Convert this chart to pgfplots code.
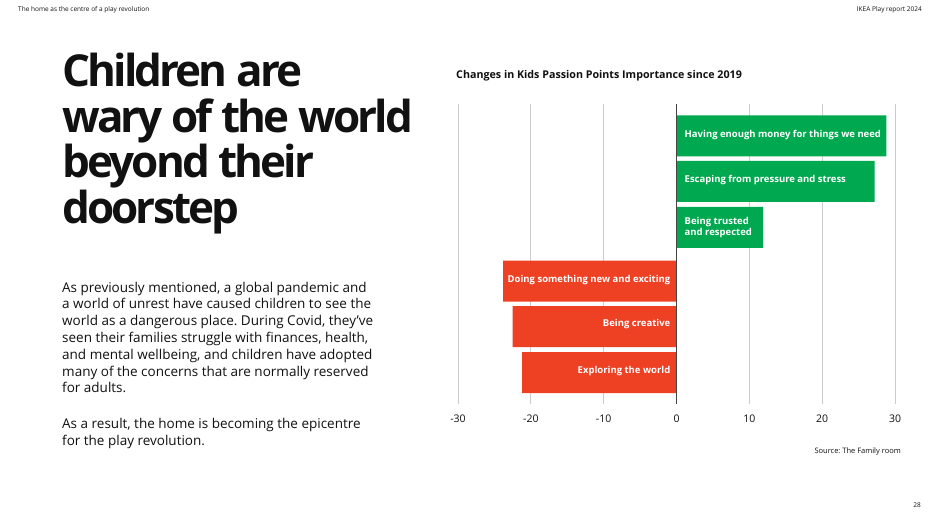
\documentclass[border=0pt]{standalone}
\usepackage{fontspec}
\setmainfont{Open Sans}
\newfontfamily\titlefont[LetterSpace=-6.5]{Open Sans}
\usepackage{pgfplots}
\pgfplotsset{compat=1.18}
\definecolor{barGreen}{HTML}{00A84F}
\definecolor{barRed}{HTML}{EE4023}
\definecolor{ink}{HTML}{111111}
\definecolor{gridGray}{HTML}{CCCCCC}
\definecolor{zeroLine}{HTML}{444444}
\frenchspacing

\begin{document}
\begin{tikzpicture}[x=1pt,y=-1pt]
\fill[white] (0,0) rectangle (940,528);

% running header
\node[anchor=west, inner sep=0, text=ink, font=\fontsize{6.5}{7}\selectfont] at (18,10) {The home as the centre of a play revolution};
\node[anchor=east, inner sep=0, text=ink, font=\fontsize{6.5}{7}\selectfont] at (922,10) {IKEA Play report 2024};

% headline
\begin{scope}[every node/.style={anchor=base west, inner sep=0, text=ink, font=\titlefont\bfseries\fontsize{44}{45}\selectfont}]
\node at (62,86.5) {Children are};
\node at (62,132) {wary of the world};
\node at (62,177.5) {beyond their};
\node at (62,223.5) {doorstep};
\end{scope}

% body copy
\begin{scope}[every node/.style={anchor=base west, inner sep=0, text=ink, font=\fontsize{13.5}{16.8}\selectfont}]
\node at (62,292) {As previously mentioned, a global pandemic and};
\node at (62,308.8) {a world of unrest have caused children to see the};
\node at (62,325.6) {world as a dangerous place. During Covid, they’ve};
\node at (62,342.4) {seen their families struggle with finances, health,};
\node at (62,359.2) {and mental wellbeing, and children have adopted};
\node at (62,376) {many of the concerns that are normally reserved};
\node at (62,392.8) {for adults.};
\node at (62,428.5) {As a result, the home is becoming the epicentre};
\node at (62,445.3) {for the play revolution.};
\end{scope}

% chart title and source
\node[anchor=west, inner sep=0, text=ink, font=\bfseries\fontsize{10.7}{12}\selectfont] at (456,76) {Changes in Kids Passion Points Importance since 2019};
\node[anchor=east, inner sep=0, text=ink, font=\fontsize{7.5}{9}\selectfont] at (901,452) {Source: The Family room};
\node[anchor=east, inner sep=0, text=ink, font=\fontsize{6.5}{7}\selectfont] at (921,505) {28};

\begin{axis}[
  at={(458pt,-404pt)}, anchor=south west,
  scale only axis, width=437pt, height=300pt,
  xmin=-30, xmax=30, ymin=104, ymax=404, y dir=reverse,
  axis line style={draw=none},
  ytick=\empty,
  xtick={-30,-20,-10,0,10,20,30},
  xticklabels={-30,-20,-10,0,10,20,30},
  major tick length=0pt,
  xmajorgrids, grid style={gridGray, line width=1pt},
  xticklabel style={font=\fontsize{10.5}{12}\selectfont, text=ink, yshift=-7pt},
  clip=false,
]
\addplot[xbar, bar shift=0pt, bar width=41, fill=barGreen, draw=none]
  coordinates {(28.8,135.8) (27.2,181.4) (11.9,227.4)};
\addplot[xbar, bar shift=0pt, bar width=41, fill=barRed, draw=none]
  coordinates {(-23.8,281.2) (-22.5,326.5) (-21.2,372.5)};
\draw[zeroLine, line width=1.3pt] (axis cs:0,104) -- (axis cs:0,404);

\begin{scope}[every node/.style={text=white, inner sep=0, font=\bfseries\fontsize{9.5}{11}\selectfont}]
\node[anchor=west, xshift=8pt] at (axis cs:0,134.5) {Having enough money for things we need};
\node[anchor=west, xshift=8pt] at (axis cs:0,180.2) {Escaping from pressure and stress};
\node[anchor=west, xshift=8pt, align=left] at (axis cs:0,227.2) {Being trusted\\and respected};
\node[anchor=east, xshift=-6pt] at (axis cs:0,280.5) {Doing something new and exciting};
\node[anchor=east, xshift=-6pt] at (axis cs:0,324.5) {Being creative};
\node[anchor=east, xshift=-6pt] at (axis cs:0,371.5) {Exploring the world};
\end{scope}
\end{axis}
\end{tikzpicture}
\end{document}
